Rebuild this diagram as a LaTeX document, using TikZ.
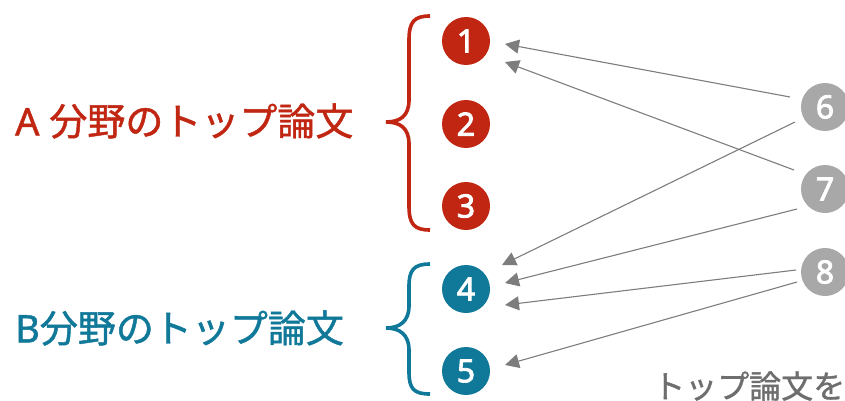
\documentclass[tikz,border=0pt]{standalone}
\usepackage{fontspec}
\setmainfont{Noto Sans}[FakeBold=1.2]
\newfontfamily\jp{Noto Sans CJK JP}[FakeBold=1.2]
\newfontfamily\numfont{Noto Sans}[FakeBold=2.6]
\usetikzlibrary{arrows.meta,calc}
\definecolor{cred}{RGB}{192,38,17}
\definecolor{cblue}{RGB}{16,120,152}
\definecolor{cgray}{RGB}{168,168,168}
\definecolor{cline}{RGB}{125,125,125}
\definecolor{ctext}{RGB}{110,110,110}
\tikzset{
  num/.style={circle,minimum size=48pt,inner sep=0pt,text=white,font=\numfont\fontsize{32}{32}\selectfont},
  rednum/.style={num,fill=cred},
  bluenum/.style={num,fill=cblue},
  graynum/.style={num,fill=cgray},
  arr/.style={draw=cline,line width=1.1pt,-{Triangle[length=14pt,width=14pt]},color=cline},
  bracestyle/.style={line width=3.6pt,line cap=butt},
  lbl/.style={anchor=west,inner sep=0pt,font=\fontsize{38}{38}\selectfont}
}
\begin{document}
\begin{tikzpicture}[x=1pt,y=-1pt]
\useasboundingbox (0,0) rectangle (845,401);
\node[rednum] (c1) at (466,41) {1};
\node[rednum] (c2) at (466,124) {2};
\node[rednum] (c3) at (466,206) {3};
\node[bluenum] (c4) at (466,289) {4};
\node[bluenum] (c5) at (466,371) {5};
\node[graynum] (c6) at (825,107) {6};
\node[graynum] (c7) at (825,189) {7};
\node[graynum] (c8) at (825,272) {8};
% braces
\draw[bracestyle,draw=cred] (430,16) .. controls (414,16) and (409,22) .. (409,40) -- (409,100)
  .. controls (409,116) and (400,122) .. (386,122)
  .. controls (400,122) and (409,128) .. (409,144) -- (409,206)
  .. controls (409,224) and (414,230) .. (430,230);
\draw[bracestyle,draw=cblue] (430,264) .. controls (414,264) and (409,270) .. (409,286) -- (409,306)
  .. controls (409,321) and (400,328) .. (386,328)
  .. controls (400,328) and (409,335) .. (409,350) -- (409,372)
  .. controls (409,389) and (414,394) .. (430,394);
% labels
\node[lbl,text=cred] (la) at (15,121) {A {\jp 分野のトップ論文}};
\node[lbl,text=cblue] (lb) at (15,328) {B{\jp 分野のトップ論文}};
\node[anchor=west,inner sep=0pt,text=ctext,font=\jp\fontsize{32}{32}\selectfont] (lc) at (653,386) {トップ論文を};
% arrows
\draw[arr] ($(c6)+(-35,-10)$) -- ($(c1)+(39,3)$);
\draw[arr] ($(c7)+(-31,-19)$) -- ($(c1)+(39,21)$);
\draw[arr] ($(c6)+(-30,15)$) -- ($(c4)+(36,-24)$);
\draw[arr] ($(c7)+(-28,20)$) -- ($(c4)+(39,-6)$);
\draw[arr] ($(c8)+(-29,-2)$) -- ($(c4)+(39,16)$);
\draw[arr] ($(c8)+(-28,10)$) -- ($(c5)+(39,-6)$);
\end{tikzpicture}
\end{document}
